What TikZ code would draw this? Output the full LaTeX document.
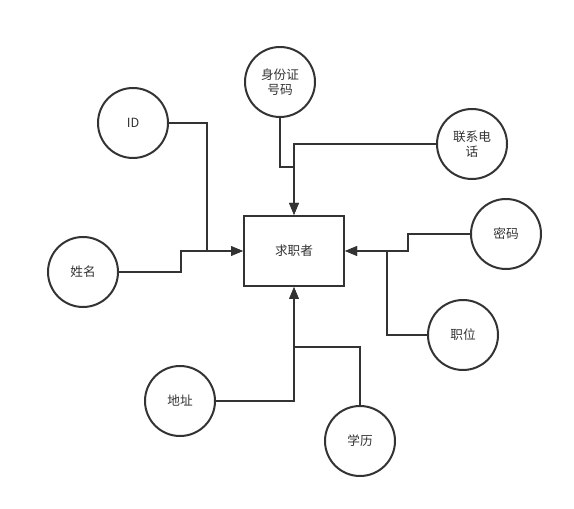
\documentclass[tikz,border=0pt]{standalone}
\usepackage{fontspec}
\setmainfont{Noto Sans CJK SC}
\usepackage{tikz}
\usetikzlibrary{arrows.meta, positioning}

\definecolor{inkgray}{HTML}{333333}

\begin{document}
\begin{tikzpicture}[ x = 0.75pt, y = -0.75pt
                     , font = \fontsize{9.5}{11.5}\selectfont
                     , line width = 1.5pt
                     , >={Triangle[width=7pt, length=9pt]}
                     , entity/.style = { rectangle
                                       , draw = inkgray
                                       , text = inkgray
                                       , minimum width = 100*0.75pt
                                       , minimum height = 70*0.75pt }
                     , attr/.style = { circle
                                     , draw = inkgray
                                     , text = inkgray
                                     , align = center
                                     , inner sep = 0pt
                                     , minimum size = 70*0.75pt }
                     , link/.style = { draw = inkgray, ->}
                     ]

  \useasboundingbox (0,0) rectangle (574,509);

  \node (seeker) [entity] at (294,251) {求职者};

  \node (id)      [attr] at (133,123) {ID};
  \node (idcard)  [attr] at (280,82)  {身份证\\号码};
  \node (phone)   [attr] at (472,144) {联系电\\话};
  \node (name)    [attr] at (83,272)  {姓名};
  \node (pwd)     [attr] at (506,234) {密码};
  \node (job)     [attr] at (463,335) {职位};
  \node (addr)    [attr] at (180,401) {地址};
  \node (edu)     [attr] at (360,441) {学历};

  % left side
  \draw[link] (id.east) -| (207,251) -- (seeker.west);
  \draw[link] (name.east) -| (181,251) -- (seeker.west);

  % top side
  \draw[link] (idcard.south) |- (294,167) -- (seeker.north);
  \draw[link] (phone.west) -| (seeker.north);

  % right side
  \draw[link] (pwd.west) -| (408,251) -- (seeker.east);
  \draw[link] (job.west) -| (387,251) -- (seeker.east);

  % bottom side
  \draw[link] (addr.east) -| (seeker.south);
  \draw[link] (edu.north) |- (294,347) -- (seeker.south);

\end{tikzpicture}
\end{document}
